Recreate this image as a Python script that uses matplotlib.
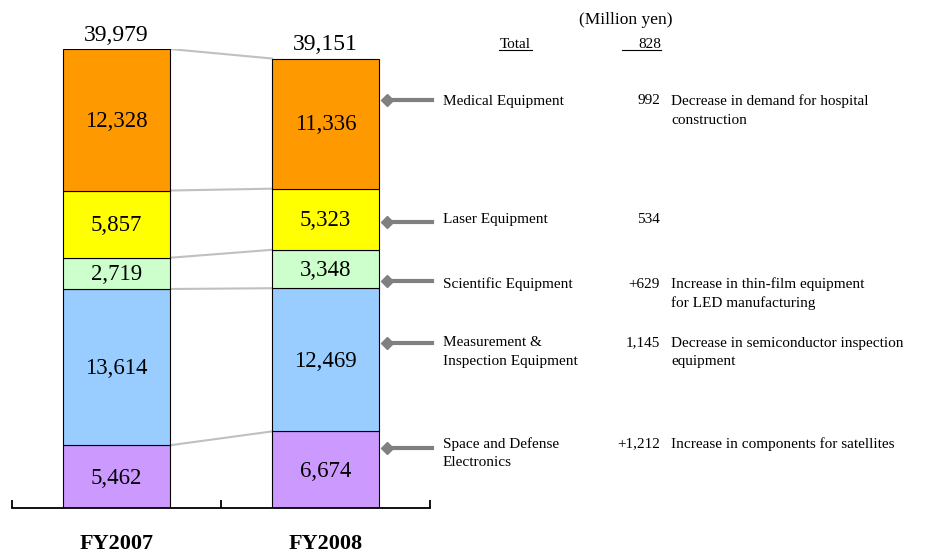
import matplotlib.pyplot as plt
from matplotlib.lines import Line2D

plt.rcParams['font.family'] = ['Liberation Serif', 'DejaVu Serif']

years = ['FY2007', 'FY2008']
totals = ['39,979', '39,151']
# bottom to top
segments = ['Space and Defense Electronics', 'Measurement & Inspection Equipment',
            'Scientific Equipment', 'Laser Equipment', 'Medical Equipment']
fy2007 = [5462, 13614, 2719, 5857, 12328]
fy2008 = [6674, 12469, 3348, 5323, 11336]
colors = ['#CC99FF', '#99CCFF', '#CCFFCC', '#FFFF00', '#FF9900']

# right-hand notes, top to bottom
note_labels = [['Medical Equipment'], ['Laser Equipment'], ['Scientific Equipment'],
               ['Measurement &', 'Inspection Equipment'], ['Space and Defense', 'Electronics']]
note_values = ['992', '534', '+629', '1,145', '+1,212']
note_texts = [['Decrease in demand for hospital', 'construction'], [],
              ['Increase in thin-film equipment', 'for LED manufacturing'],
              ['Decrease in semiconductor inspection', 'equipment'],
              ['Increase in components for satellites']]
note_y = [101, 219, 284, 343, 444]
arrow_y = [100, 222, 281, 343, 448]

W, H = 934, 554
fig = plt.figure(figsize=(W / 100, H / 100), dpi=100)
ax = fig.add_axes([12 / W, 46 / H, 418 / W, 459 / H])

def fx(x):
    return x / W

def fy(y):
    return 1 - y / H

xs = [0.5, 1.5]
bw = 0.51
data = [fy2007, fy2008]
bottoms = [0, 0]
bounds = [[], []]
for k in range(len(segments)):
    for i in range(2):
        v = data[i][k]
        ax.bar(xs[i], v, bw, bottom=bottoms[i], color=colors[k],
               edgecolor='black', linewidth=0.8, zorder=2)
        ax.text(xs[i], bottoms[i] + v / 2 - 120, f'{v:,}', ha='center', va='center',
                fontsize=16.5, zorder=3)
        bottoms[i] += v
        bounds[i].append(bottoms[i])

# connector lines between the two bars
for a, b in zip(bounds[0], bounds[1]):
    ax.plot([xs[0] + bw / 2, xs[1] - bw / 2], [a, b], color='#C0C0C0', lw=1.5, zorder=1)

for i in range(2):
    ax.text(xs[i], sum(data[i]) + 300, totals[i], ha='center', va='bottom', fontsize=17)

ax.set_xlim(0, 2)
ax.set_ylim(0, sum(fy2007))
for s in ['top', 'right', 'left']:
    ax.spines[s].set_visible(False)
ax.spines['bottom'].set_linewidth(1.3)
ax.set_yticks([])
ax.set_xticks([0, 1, 2])
ax.set_xticklabels([])
ax.tick_params(axis='x', which='major', direction='in', length=6, width=1.3)
ax.set_xticks(xs, minor=True)
ax.set_xticklabels(years, minor=True, fontsize=16, fontweight='bold')
ax.tick_params(axis='x', which='minor', length=0, pad=19)

# header
fig.text(fx(626), fy(20), '(Million yen)', ha='center', va='center', fontsize=12.5)
fig.text(fx(515), fy(44), 'Total', ha='center', va='center', fontsize=11)
fig.text(fx(661), fy(44), '828', ha='right', va='center', fontsize=11)
fig.lines.append(Line2D([fx(499), fx(532)], [fy(50), fy(50)], color='black', lw=0.8,
                        transform=fig.transFigure))
fig.lines.append(Line2D([fx(622), fx(661)], [fy(50), fy(50)], color='black', lw=0.8,
                        transform=fig.transFigure))

# arrows and notes
for labels, val, texts, ty, ay in zip(note_labels, note_values, note_texts, note_y, arrow_y):
    fig.lines.append(Line2D([fx(386), fx(432)], [fy(ay), fy(ay)], color='#808080', lw=3,
                            transform=fig.transFigure))
    fig.lines.append(Line2D([fx(387)], [fy(ay)], color='#808080', marker='D', markersize=6,
                            transform=fig.transFigure))
    for j, s in enumerate(labels):
        fig.text(fx(443), fy(ty + 19 * j), s, ha='left', va='center', fontsize=11)
    fig.text(fx(660), fy(ty), val, ha='right', va='center', fontsize=11)
    for j, s in enumerate(texts):
        fig.text(fx(671), fy(ty + 19 * j), s, ha='left', va='center', fontsize=11)

fig.savefig('out.png', dpi=100)
